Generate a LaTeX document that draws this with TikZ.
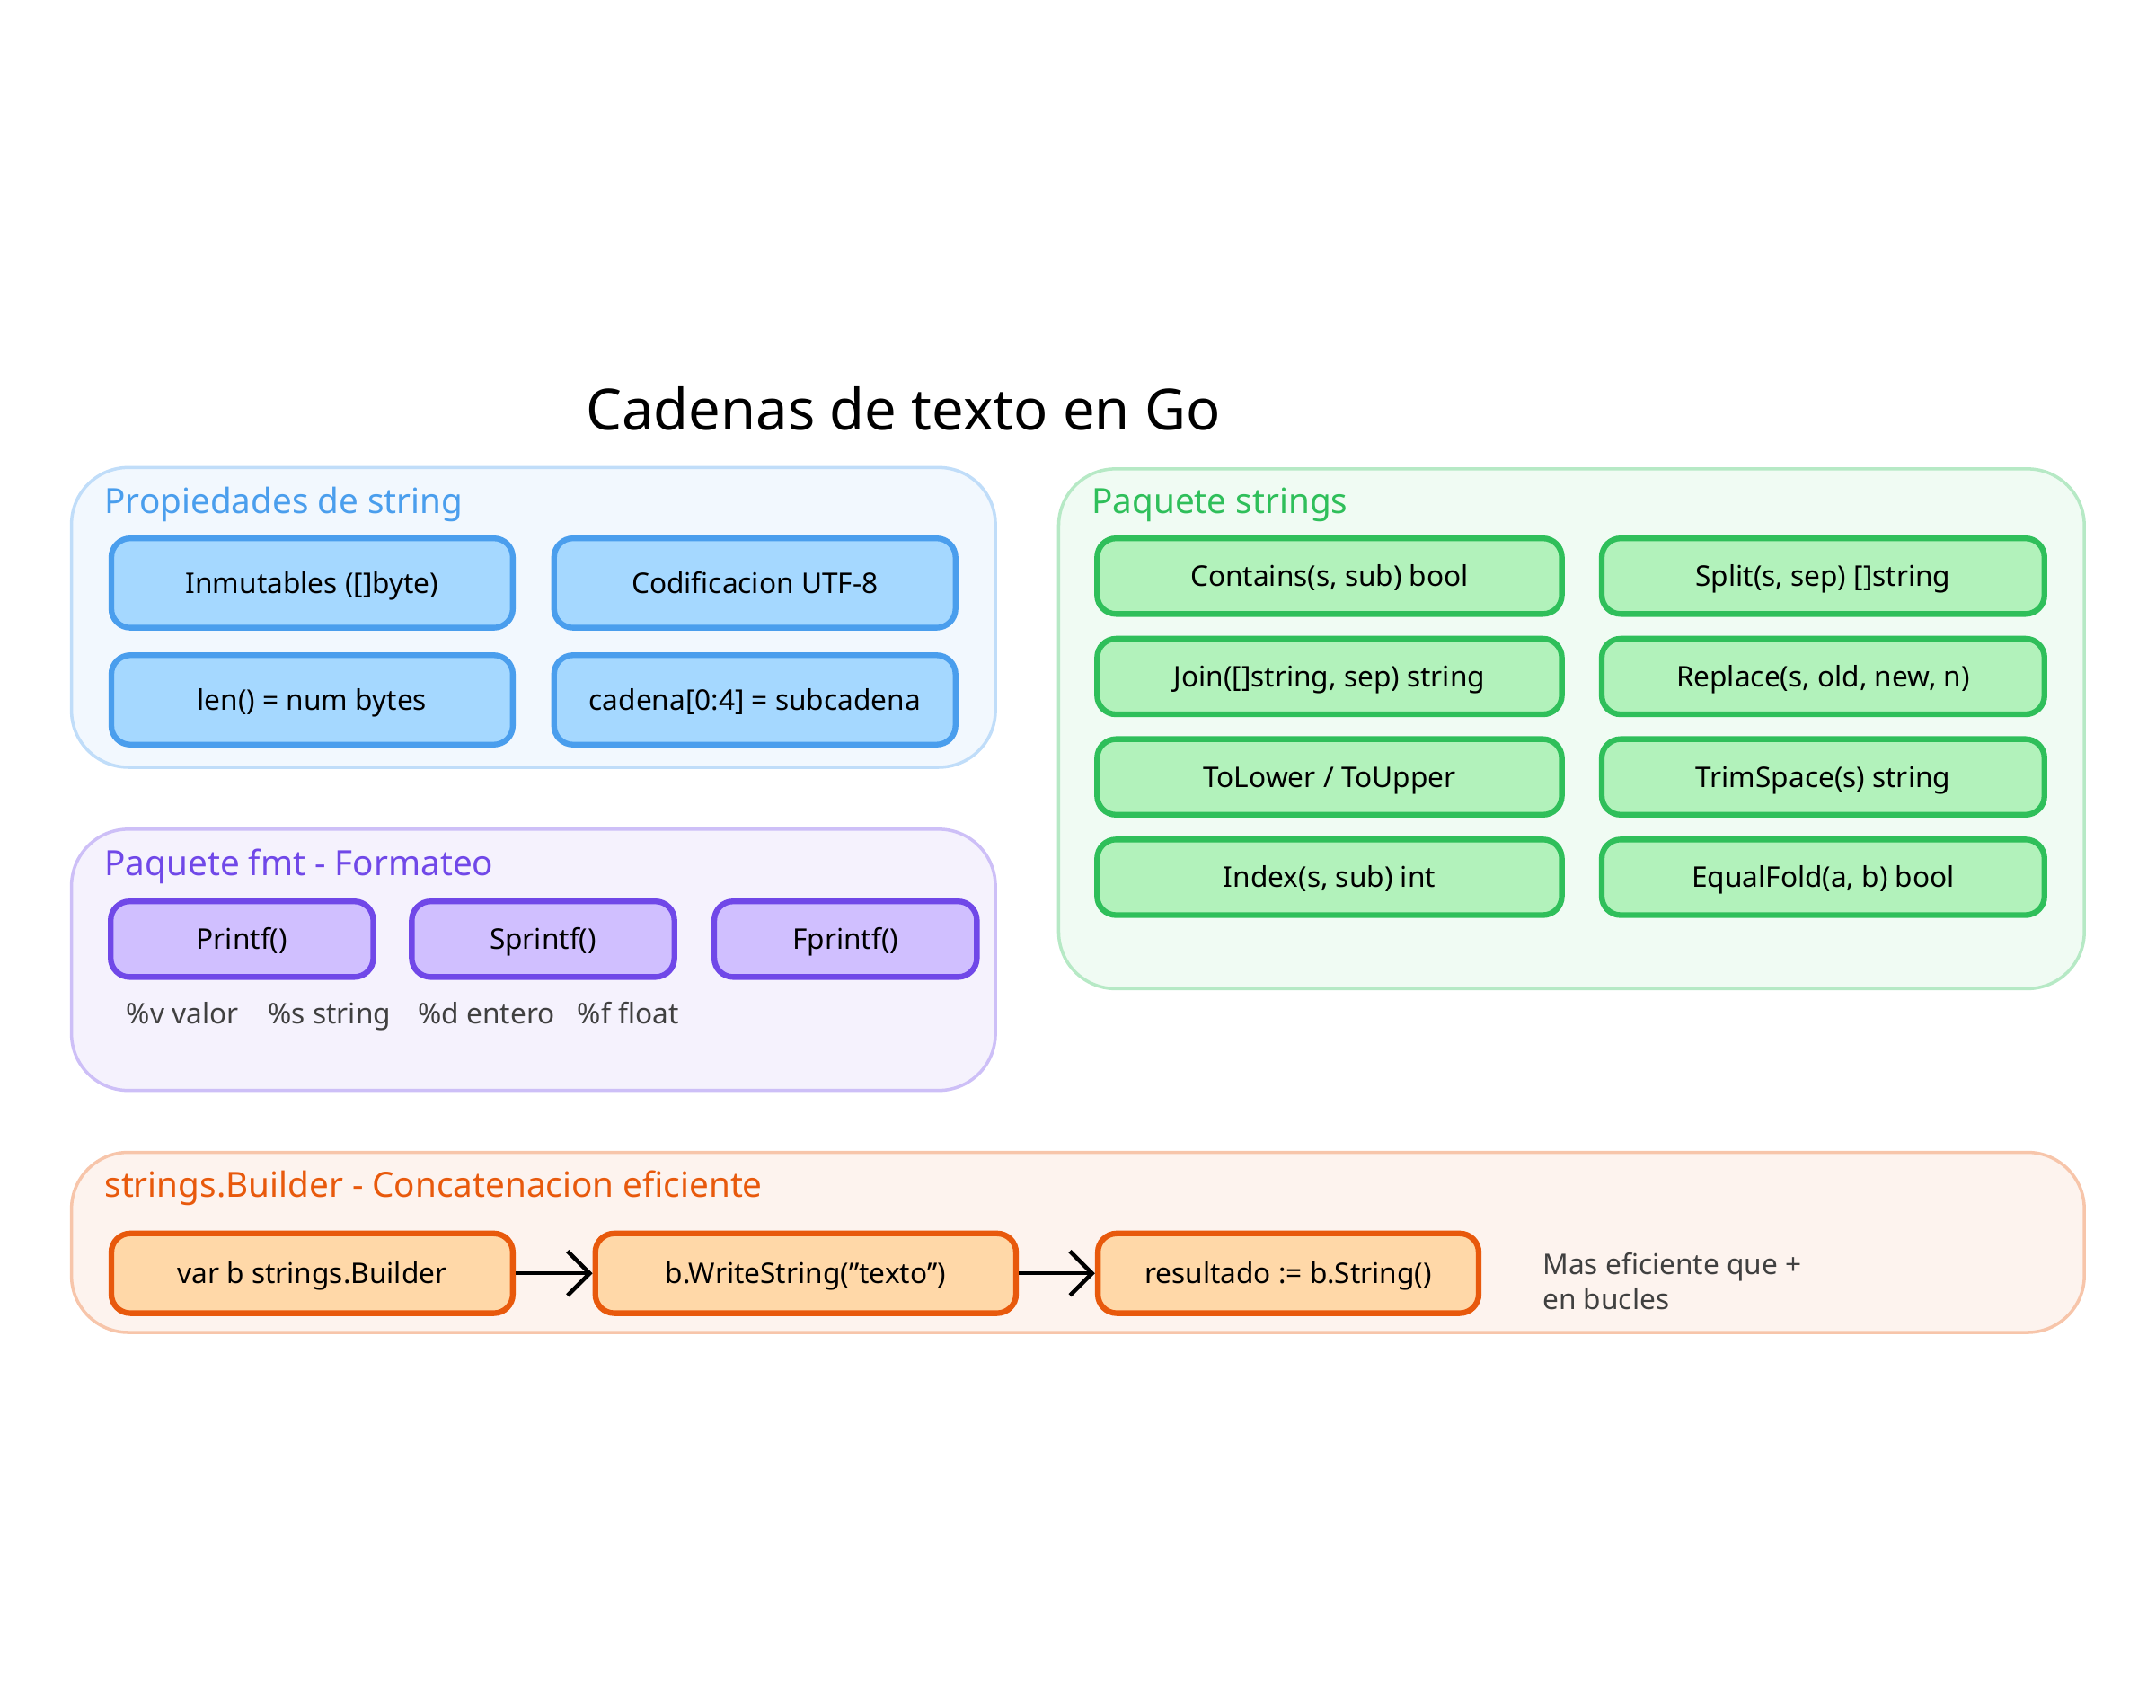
\documentclass[tikz,border=0pt]{standalone}
\usepackage{fontspec}
\setmainfont{Noto Sans}
\usetikzlibrary{arrows.meta}
\definecolor{bluefill}{HTML}{A5D8FF}\definecolor{bluedraw}{HTML}{4A9EED}
\definecolor{purfill}{HTML}{D0BFFF}\definecolor{purdraw}{HTML}{7048E8}
\definecolor{grnfill}{HTML}{B2F2BB}\definecolor{grndraw}{HTML}{2FBF5A}
\definecolor{orgfill}{HTML}{FFD8A8}\definecolor{orgdraw}{HTML}{E8590C}
\tikzset{
  group/.style={draw=#1!35, fill=#1!7, line width=1pt, rounded corners=18pt},
  glabel/.style={anchor=west, text=#1, font=\fontsize{11}{13}\selectfont},
  box/.style 2 args={draw=#1, fill=#2, line width=1.8pt, rounded corners=6pt,
    text height=1.6ex, text depth=.4ex, font=\fontsize{9}{11}\selectfont},
  note/.style={anchor=west, text=black!75, text height=1.6ex, text depth=.4ex,
    font=\fontsize{9}{11}\selectfont}
}
\begin{document}
\begin{tikzpicture}[x=0.01531cm, y=-0.01531cm]
    \useasboundingbox (0,0) rectangle (24cm,-19cm);
    \node (title) at (657,297) {\fontsize{18}{22}\selectfont Cadenas de texto en Go};
    % string properties
    \draw[group=bluedraw] (52,340) rectangle (724,558);
    \node[glabel=bluedraw] (propl) at (68,367) {Propiedades de string};
    \foreach \x/\y/\t [count=\i] in {227/424/{Inmutables ([]byte)}, 549/424/{Codificacion UTF-8},
        227/509/{len() = num bytes}, 549/509/{cadena[0:4] = subcadena}}
      \node[box={bluedraw}{bluefill}, minimum width={292*0.01531cm}, minimum height={65*0.01531cm}]
        (prop\i) at (\x,\y) {\t};
    % fmt
    \draw[group=purdraw] (52,603) rectangle (724,793);
    \node[glabel=purdraw] (fmtl) at (68,630) {Paquete fmt - Formateo};
    \foreach \x/\t [count=\i] in {176/Printf(), 395/Sprintf(), 615/Fprintf()}
      \node[box={purdraw}{purfill}, minimum width={191*0.01531cm}, minimum height={55*0.01531cm}]
        (fmt\i) at (\x,683) {\t};
    \foreach \x/\t [count=\i] in {84/{\%v valor}, 187/{\%s string}, 296/{\%d entero}, 412/{\%f float}}
      \node[note] (verb\i) at (\x,737) {\t};
    % strings package
    \draw[group=grndraw] (770,341) rectangle (1516,719);
    \node[glabel=grndraw] (strl) at (786,367) {Paquete strings};
    \foreach \y/\a/\b [count=\i] in {419/{Contains(s, sub) bool}/{Split(s, sep) []string},
        492/{Join([]string, sep) string}/{Replace(s, old, new, n)},
        565/{ToLower / ToUpper}/{TrimSpace(s) string},
        638/{Index(s, sub) int}/{EqualFold(a, b) bool}} {
      \node[box={grndraw}{grnfill}, minimum width={338*0.01531cm}, minimum height={55*0.01531cm}]
        (fa\i) at (967,\y) {\a};
      \node[box={grndraw}{grnfill}, minimum width={322*0.01531cm}, minimum height={55*0.01531cm}]
        (fb\i) at (1326,\y) {\b};
    }
    % builder
    \draw[group=orgdraw] (52,838) rectangle (1516,969);
    \node[glabel=orgdraw] (bldl) at (68,864) {strings.Builder - Concatenacion eficiente};
    \node[box={orgdraw}{orgfill}, minimum width={292*0.01531cm}, minimum height={58*0.01531cm}]
      (b1) at (227,926) {var b strings.Builder};
    \node[box={orgdraw}{orgfill}, minimum width={306*0.01531cm}, minimum height={58*0.01531cm}]
      (b2) at (586,926) {b.WriteString("texto")};
    \node[box={orgdraw}{orgfill}, minimum width={277*0.01531cm}, minimum height={58*0.01531cm}]
      (b3) at (937,926) {resultado := b.String()};
    \draw[-{Straight Barb[length=7pt]}, line width=1.3pt] (b1) -- (b2);
    \draw[-{Straight Barb[length=7pt]}, line width=1.3pt] (b2) -- (b3);
    \node[note, align=left] (bnote) at (1114,945) {Mas eficiente que +\\en bucles};
\end{tikzpicture}
\end{document}
